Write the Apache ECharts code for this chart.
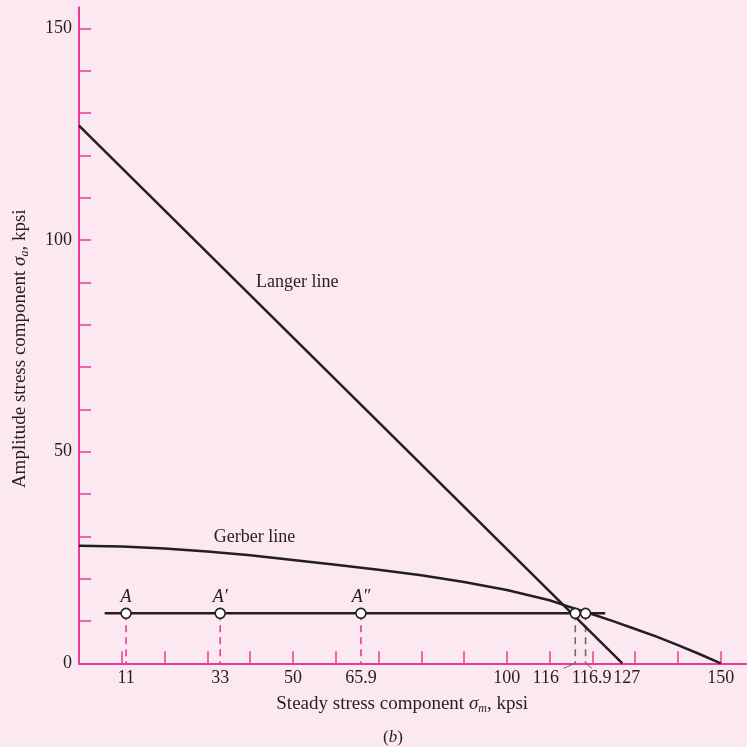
<!DOCTYPE html>
<html>
<head>
<meta charset="utf-8">
<script src="https://cdn.jsdelivr.net/npm/echarts@6/dist/echarts.min.js"></script>
<style>
html,body{margin:0;padding:0;background:#fce8f1;}
#chart{width:747px;height:747px;}
</style>
</head>
<body>
<div id="chart"></div>
<script>
// ---- data ----
const langerX = [0, 127];
const langerY = [127, 0];
const gerberX = [0, 10, 20, 30, 40, 50, 60, 70, 80, 90, 100, 110, 115, 120, 125, 130, 135, 140, 145, 150];
const gerberY = [27.8, 27.6, 27.1, 26.4, 25.5, 24.4, 23.3, 22.1, 20.8, 19.2, 17.3, 14.9, 13.2, 11.6, 9.9, 8.1, 6.3, 4.3, 2.2, 0];
const loadLineX = [6, 123];
const loadLevel = 11.8;
const pointX = [11, 33, 65.9, 116, 118.4];
const pointNames = ['A', "A′", "A″", '', ''];
const pointDropPink = [true, true, true, false, false];
const leaderFrom = [116, 118.4];
const leaderTo = [113.2, 119.9];
const leaderDepth = -1.2;
const xTickValues = [10, 20, 30, 40, 50, 60, 70, 80, 90, 100, 110, 120, 130, 140, 150];
const xLabelValues = [11, 33, 50, 65.9, 100, 116, 116.9, 127, 150];
const xLabelTexts = ['11', '33', '50', '65.9', '100', '116', '116.9', '127', '150'];
const xLabelStyle = ['n', 'n', 'n', 'n', 'n', 'l', 'r', 'r2', 'n'];
const yTickValues = [10, 20, 30, 40, 50, 60, 70, 80, 90, 100, 110, 120, 130, 140, 150];
const yLabelValues = [0, 50, 100, 150];
const lineNotes = [
  {text: 'Langer line', at: [51, 90]},
  {text: 'Gerber line', at: [41, 29.8]}
];

const PINK = '#ec3a98';
const INK = '#231f20';
const GRAY = '#6e6a6b';
const SERIF = '"Liberation Serif", "Times New Roman", serif';

const base = {fontFamily: SERIF, fontSize: 18, color: INK};

const series = [];
// drop lines
pointX.forEach((x, i) => {
  series.push({
    type: 'line', data: [[x, loadLevel], [x, 0]], symbol: 'none', silent: true, z: 1,
    lineStyle: {color: pointDropPink[i] ? PINK : GRAY, width: 1.6, type: [7, 5]}
  });
});
// leader lines below axis
leaderFrom.forEach((x, i) => {
  series.push({
    type: 'line', data: [[x, 0], [leaderTo[i], leaderDepth]], symbol: 'none', clip: false, silent: true, z: 1,
    lineStyle: {color: GRAY, width: 1}
  });
});
// Langer
series.push({
  type: 'line', data: langerX.map((x, i) => [x, langerY[i]]), symbol: 'none', z: 3,
  lineStyle: {color: INK, width: 2.5}
});
// Gerber
series.push({
  type: 'line', data: gerberX.map((x, i) => [x, gerberY[i]]), symbol: 'none', smooth: false, z: 3,
  lineStyle: {color: INK, width: 2.5, join: 'round'}
});
// load line
series.push({
  type: 'line', data: loadLineX.map(x => [x, loadLevel]), symbol: 'none', z: 3,
  lineStyle: {color: INK, width: 2.5}
});
// points
series.push({
  type: 'scatter', z: 5,
  data: pointX.map((x, i) => ({value: [x, loadLevel], name: pointNames[i]})),
  symbol: 'circle', symbolSize: 10,
  itemStyle: {color: '#ffffff', borderColor: INK, borderWidth: 1.6, opacity: 1},
  label: {show: true, position: 'top', distance: 1, formatter: p => p.name,
    fontFamily: SERIF, fontStyle: 'italic', fontSize: 18, color: INK, textBorderWidth: 0}
});
// line notes
series.push({
  type: 'scatter', z: 6, symbolSize: 0,
  itemStyle: {color: 'transparent', opacity: 1},
  data: lineNotes.map(n => ({value: n.at, name: n.text})),
  label: {show: true, position: 'inside', formatter: p => p.name, fontFamily: SERIF, fontSize: 18,
    color: INK, opacity: 1, textBorderWidth: 0, textBorderColor: 'transparent'}
});

const option = {
  backgroundColor: '#fce8f1',
  animation: false,
  title: {
    text: '{n|(}{i|b}{n|)}', left: 378, top: 724,
    textStyle: {fontWeight: 'normal', rich: {
      n: {fontFamily: SERIF, fontSize: 17, fontWeight: 'normal', color: INK},
      i: {fontFamily: SERIF, fontSize: 17, fontWeight: 'normal', fontStyle: 'italic', color: INK}}}
  },
  grid: {left: 79, top: 7.2, right: 0.6, bottom: 83.7},
  xAxis: {
    type: 'value', min: 0, max: 156,
    axisLine: {show: true, lineStyle: {color: PINK, width: 2}},
    axisTick: {show: true, inside: true, length: 12, customValues: xTickValues, lineStyle: {color: PINK, width: 1.5}},
    splitLine: {show: false},
    axisLabel: {
      customValues: xLabelValues, margin: 6,
      formatter: v => {
        let k = -1;
        xLabelValues.forEach((lv, i) => { if (Math.abs(lv - v) < 1e-6) k = i; });
        if (k < 0) return '';
        return '{' + xLabelStyle[k] + '|' + xLabelTexts[k] + '}';
      },
      rich: {
        n: Object.assign({}, base),
        l: Object.assign({padding: [0, 59, 0, 0]}, base),
        r: Object.assign({padding: [0, 0, 0, 25]}, base),
        r2: Object.assign({padding: [0, 0, 0, 9]}, base)
      }
    },
    name: '{t|Steady stress component }{i|σ}{s|m}{t|, kpsi}',
    nameLocation: 'middle', nameGap: 30,
    nameTextStyle: {
      padding: [0, 21, 0, 0],
      rich: {
        t: {fontFamily: SERIF, fontSize: 19, color: INK, lineHeight: 22},
        i: {fontFamily: SERIF, fontSize: 19, fontStyle: 'italic', color: INK, lineHeight: 22},
        s: {fontFamily: SERIF, fontSize: 12, fontStyle: 'italic', color: INK, lineHeight: 10, verticalAlign: 'bottom'}
      }
    }
  },
  yAxis: {
    type: 'value', min: 0, max: 155,
    axisLine: {show: true, lineStyle: {color: PINK, width: 2}},
    axisTick: {show: true, inside: true, length: 12, customValues: yTickValues, lineStyle: {color: PINK, width: 1.5}},
    splitLine: {show: false},
    axisLabel: {customValues: yLabelValues, margin: 7, fontFamily: SERIF, fontSize: 18, color: INK},
    name: '{t|Amplitude stress component }{i|σ}{s|a}{t|, kpsi}',
    nameLocation: 'middle', nameGap: 48,
    nameTextStyle: {
      padding: [0, 27, 0, 0],
      rich: {
        t: {fontFamily: SERIF, fontSize: 19, color: INK, lineHeight: 22},
        i: {fontFamily: SERIF, fontSize: 19, fontStyle: 'italic', color: INK, lineHeight: 22},
        s: {fontFamily: SERIF, fontSize: 12, fontStyle: 'italic', color: INK, lineHeight: 10, verticalAlign: 'bottom'}
      }
    }
  },
  series: series
};

const chart = echarts.init(document.getElementById('chart'), null, {renderer: 'canvas'});
chart.setOption(option);
</script>
</body>
</html>
